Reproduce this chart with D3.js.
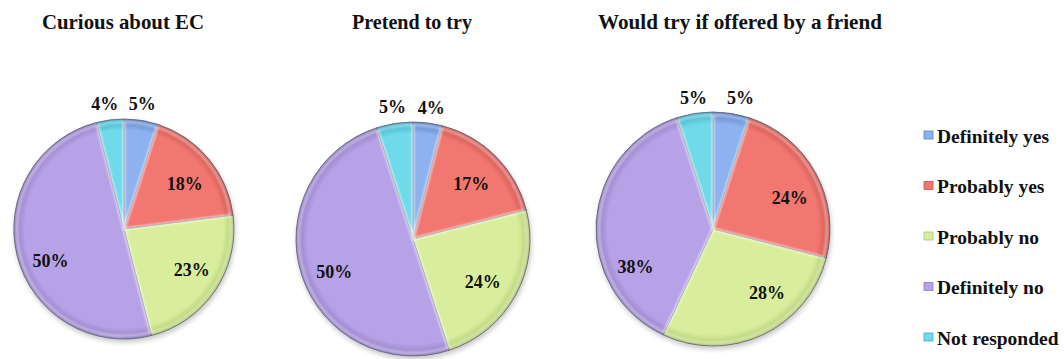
<!DOCTYPE html>
<html>
<head>
<meta charset="utf-8">
<script src="https://cdn.jsdelivr.net/npm/d3@7"></script>
<style>
  html, body { margin: 0; padding: 0; background: #fff; }
  svg { display: block; }
  text { font-family: "Liberation Serif", "Times New Roman", serif; font-weight: bold; fill: #111; }
</style>
</head>
<body>
<svg id="chart" width="1064" height="359"></svg>
<script>
// Response categories, in clockwise order from 12 o'clock
const categories = ["Definitely yes", "Probably yes", "Probably no", "Definitely no", "Not responded"];

// Survey questions (one pie each)
const questions = ["Curious about EC", "Pretend to try", "Would try if offered by a friend"];

// Percentages per question, matching the category order
const curiousValues = [5, 18, 23, 50, 4];
const pretendValues = [4, 17, 24, 50, 5];
const friendValues  = [5, 24, 28, 38, 5];

const seriesValues = [curiousValues, pretendValues, friendValues];

// Slice colours (body and darker rim)
const colors = ["#8db2ef", "#f27770", "#d9ee9d", "#b7a2e7", "#70d9ea"];
const edgeColors = ["#5b82c6", "#c9524c", "#adc86c", "#8f7bc2", "#3fafc6"];

// Layout of each pie: centre, radius, title position/width, label nudges
const layout = [
  { cx: 124, cy: 229, r: 110, tx: 123, tw: 162,
    shift: [[-2, 2], [3, 2], [6, -1], [-1, 13], [-3, 2]] },
  { cx: 413, cy: 239, r: 117, tx: 412, tw: 120,
    shift: [[1, 4], [2, 1], [0, 4], [-3, 8], [1, 3]] },
  { cx: 713, cy: 229, r: 117, tx: 740, tw: 284,
    shift: [[6, 4], [7, 7], [20, -8], [2, 43], [2, 4]] }
];

const svg = d3.select("#chart");
const defs = svg.append("defs");

// Soft shadow under each pie
const shadow = defs.append("filter").attr("id", "shadow")
  .attr("x", "-10%").attr("y", "-10%").attr("width", "120%").attr("height", "125%");
shadow.append("feGaussianBlur").attr("in", "SourceAlpha").attr("stdDeviation", 2.5);
shadow.append("feOffset").attr("dx", 1).attr("dy", 3);
shadow.append("feComponentTransfer").append("feFuncA").attr("type", "linear").attr("slope", 0.22);
const merge = shadow.append("feMerge");
merge.append("feMergeNode");
merge.append("feMergeNode").attr("in", "SourceGraphic");

// Blur used for the bevel highlights
defs.append("filter").attr("id", "soft")
  .append("feGaussianBlur").attr("stdDeviation", 1.2);

const pie = d3.pie().sort(null).value(d => d);

seriesValues.forEach((values, qi) => {
  const L = layout[qi];
  const arc = d3.arc().innerRadius(0).outerRadius(L.r);
  const innerLabel = d3.arc().innerRadius(L.r * 0.68).outerRadius(L.r * 0.68);
  const outerLabel = d3.arc().innerRadius(L.r * 1.17).outerRadius(L.r * 1.17);

  // Title
  svg.append("text")
    .attr("x", L.tx).attr("y", 29)
    .attr("text-anchor", "middle")
    .attr("font-size", 21)
    .attr("textLength", L.tw)
    .attr("lengthAdjust", "spacingAndGlyphs")
    .text(questions[qi]);

  const g = svg.append("g").attr("transform", `translate(${L.cx},${L.cy})`);
  const arcs = pie(values);

  // Per-pie radial gradients: lit body, darker rim
  colors.forEach((c, i) => {
    const gr = defs.append("radialGradient")
      .attr("id", `g${qi}_${i}`)
      .attr("gradientUnits", "userSpaceOnUse")
      .attr("cx", 0).attr("cy", 0).attr("r", L.r);
    gr.append("stop").attr("offset", "0%").attr("stop-color", c);
    gr.append("stop").attr("offset", "90%").attr("stop-color", c);
    gr.append("stop").attr("offset", "100%").attr("stop-color", edgeColors[i]);
  });

  const slices = g.append("g").attr("filter", "url(#shadow)");
  slices.selectAll("path")
    .data(arcs)
    .join("path")
    .attr("d", arc)
    .attr("fill", (d, i) => `url(#g${qi}_${i})`)
    .attr("stroke", "#55556a")
    .attr("stroke-opacity", 0.8)
    .attr("stroke-width", 1);

  // Light bevel just inside each slice edge
  g.append("g").attr("filter", "url(#soft)")
    .selectAll("path")
    .data(arcs)
    .join("path")
    .attr("d", d3.arc().innerRadius(0).outerRadius(L.r - 3))
    .attr("fill", "none")
    .attr("stroke", "#fff")
    .attr("stroke-opacity", 0.45)
    .attr("stroke-width", 2.5);

  // Value labels
  g.append("g").selectAll("text")
    .data(arcs)
    .join("text")
    .attr("transform", (d, i) => {
      const p = (d.data < 8 ? outerLabel : innerLabel).centroid(d);
      return `translate(${p[0] + L.shift[i][0]},${p[1] + L.shift[i][1]})`;
    })
    .attr("text-anchor", "middle")
    .attr("dy", "0.35em")
    .attr("font-size", 18)
    .text(d => d.data + "%");
});

// Legend
const legendY = d3.scalePoint().domain(categories).range([136, 338]);
const legend = svg.append("g");
categories.forEach((c, i) => {
  const y = legendY(c);
  legend.append("rect")
    .attr("x", 924).attr("y", y - 5)
    .attr("width", 9).attr("height", 8)
    .attr("fill", colors[i])
    .attr("stroke", edgeColors[i])
    .attr("stroke-width", 0.8);
  legend.append("text")
    .attr("x", 937).attr("y", y)
    .attr("dy", "0.35em")
    .attr("font-size", 19.5)
    .text(c);
});
</script>
</body>
</html>
